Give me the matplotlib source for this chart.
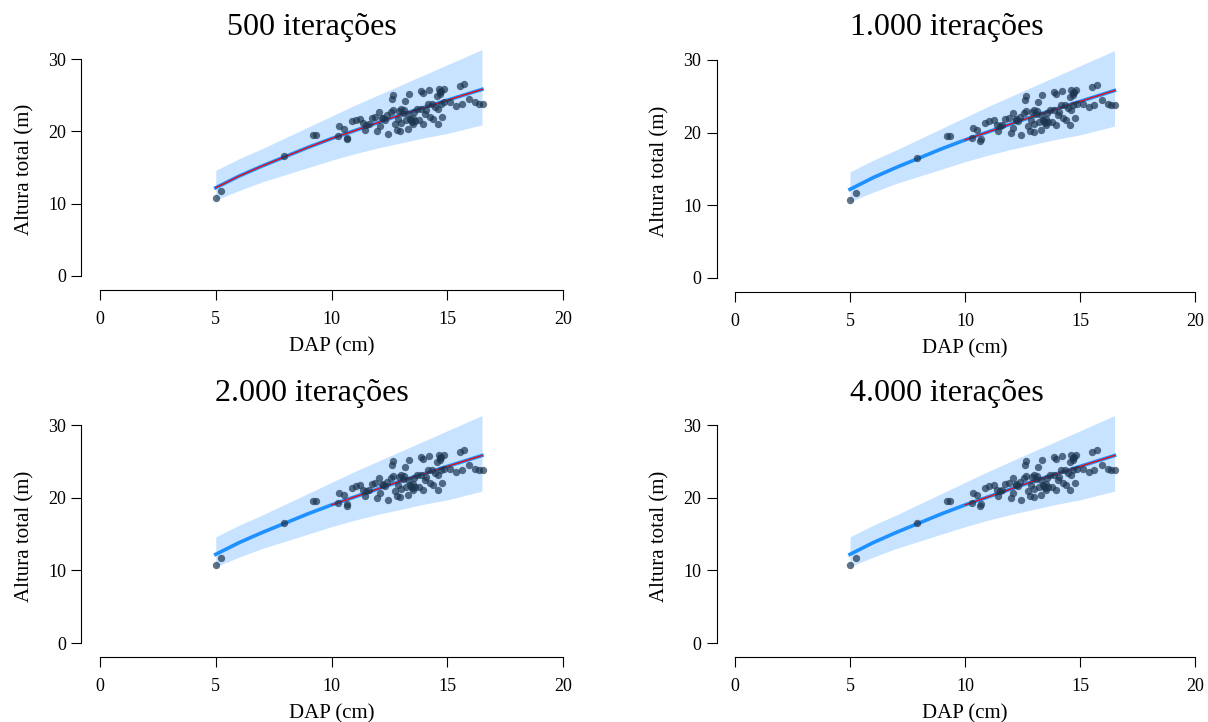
import numpy as np
import matplotlib.pyplot as plt

plt.rcParams['font.family'] = ['Liberation Serif', 'DejaVu Serif']

titles = ["500 iterações", "1.000 iterações", "2.000 iterações", "4.000 iterações"]

# observed trees (DAP in cm, total height in m)
dap = [5.0, 5.24, 7.93, 9.22, 9.34, 10.33, 10.53, 10.69, 10.66, 10.88, 11.05, 11.24,
       11.37, 11.45, 11.74, 11.9, 12.07, 11.98, 12.1, 12.23, 12.4, 12.43, 12.56, 12.6,
       12.64, 12.64, 12.73, 12.81, 12.89, 12.98, 13.02, 13.14, 13.19, 13.22, 13.31,
       13.35, 13.31, 13.39, 13.47, 13.52, 13.55, 13.69, 13.8, 13.85, 13.88, 13.97,
       13.97, 14.05, 14.18, 14.21, 14.25, 14.35, 14.38, 14.46, 14.55, 14.58, 14.63,
       14.68, 14.71, 14.74, 14.79, 14.84, 14.88, 15.12, 15.37, 15.54, 15.62, 15.74,
       15.95, 16.2, 16.36, 16.53, 10.3, 11.5, 12.2, 12.9, 13.5, 13.6, 14.1, 14.7,
       12.3, 13.1, 14.6, 11.6, 13.0, 13.45]
altura = [10.75, 11.76, 16.58, 19.52, 19.5, 20.67, 20.35, 19.1, 18.9, 21.36, 21.6, 21.7,
          21.1, 20.2, 21.86, 22.05, 22.65, 20.0, 20.67, 21.8, 22.2, 19.66, 22.65, 24.5,
          25.0, 22.97, 20.95, 20.2, 21.7, 20.1, 23.1, 22.97, 24.25, 21.5, 20.35,
          25.17, 22.4, 21.7, 21.27, 21.0, 22.65, 23.1, 21.5, 25.63, 23.1, 25.26,
          21.04, 22.4, 23.8, 25.72, 22.05, 23.8, 21.7, 23.33, 24.94, 21.04, 25.86,
          25.4, 23.8, 25.63, 21.96, 25.86, 24.0, 24.0, 23.56, 26.32, 23.8, 26.55,
          24.48, 24.0, 23.8, 23.8, 19.3, 20.9, 21.9, 22.8, 21.9, 21.4, 22.9, 25.2,
          21.6, 22.6, 23.1, 21.0, 21.2, 21.6]

# fitted curve and credible band
dap_fit = [5, 6, 7, 8, 9, 10, 11, 12, 13, 14, 15, 16, 16.5]
h_fit = [12.2, 13.8, 15.2, 16.5, 17.8, 19.0, 20.1, 21.2, 22.3, 23.3, 24.3, 25.3, 25.8]
h_low = [10.5, 11.8, 13.0, 14.0, 15.0, 16.0, 16.9, 17.7, 18.4, 19.1, 19.7, 20.5, 20.9]
h_up = [14.6, 16.2, 17.6, 19.1, 20.6, 22.1, 23.6, 25.0, 26.4, 27.8, 29.2, 30.6, 31.3]
red_start = [5, 10, 10, 10]

# pixel positions of x=0, x=20, y=0, y=30 for each panel, and title centre/baseline
panels = [(100, 563, 276, 59), (735, 1195, 278, 60),
          (100, 563, 643, 425), (735, 1195, 643, 425)]
title_pos = [(312, 28), (947, 28), (312, 393), (947, 393)]

W, H = 1208, 722
fig = plt.figure(figsize=(W / 100, H / 100), dpi=100)

for k, (px0, px20, py0, py30) in enumerate(panels):
    sx = (px20 - px0) / 20.0
    sy = (py0 - py30) / 30.0
    x_lo, x_hi = -0.8, 20.8
    y_lo, y_hi = -14 / sy, 31.3
    left = (px0 + x_lo * sx) / W
    right = (px0 + x_hi * sx) / W
    bottom = 1 - (py0 - y_lo * sy) / H
    top = 1 - (py0 - y_hi * sy) / H
    ax = fig.add_axes([left, bottom, right - left, top - bottom])
    ax.set_xlim(x_lo, x_hi)
    ax.set_ylim(y_lo, y_hi)

    ax.fill_between(dap_fit, h_low, h_up, color='#c8e3ff', lw=0, zorder=1)
    ax.plot(dap_fit, h_fit, color='#1e90ff', lw=2.6, zorder=2)
    xs = np.array(dap_fit)
    m = xs >= red_start[k]
    ax.plot(xs[m], np.array(h_fit)[m], color='red', lw=0.9, zorder=3)
    ax.scatter(dap, altura, s=28, color='#1c3650', alpha=0.7, lw=0, zorder=4)

    for s in ['top', 'right']:
        ax.spines[s].set_visible(False)
    ax.spines['left'].set_bounds(0, 30)
    ax.spines['bottom'].set_bounds(0, 20)
    ax.set_xticks([0, 5, 10, 15, 20])
    ax.set_yticks([0, 10, 20, 30])
    ax.tick_params(length=7, labelsize=13, pad=4)
    ax.tick_params(axis='x', pad=8)
    ax.set_xlabel("DAP (cm)", fontsize=15, labelpad=7)
    ax.set_ylabel("Altura total (m)", fontsize=15, labelpad=10)
    ax.patch.set_alpha(0)

    tx, ty = title_pos[k]
    fig.text(tx / W, 1 - ty / H, titles[k], fontsize=23, ha='center', va='center')

fig.savefig('out.png', dpi=100)
